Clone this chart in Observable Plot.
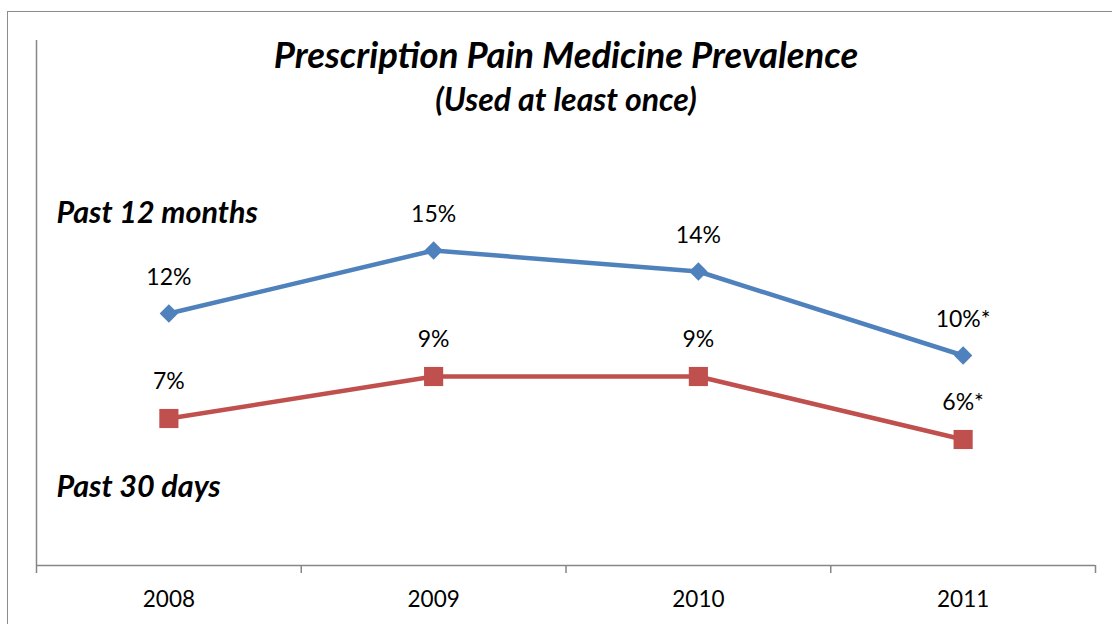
<!DOCTYPE html>
<html>
<head>
<meta charset="utf-8">
<script src="https://cdn.jsdelivr.net/npm/d3@7"></script>
<script src="https://cdn.jsdelivr.net/npm/@observablehq/plot@0.6"></script>
<style>
  html, body { margin: 0; padding: 0; background: #fff; }
  #wrap { position: relative; width: 1112px; height: 624px; overflow: hidden; }
  #border { position: absolute; left: 7px; top: 11px; width: 1200px; height: 700px;
            border: 1.5px solid #8c8c8c; box-sizing: border-box; }
  #chart { position: absolute; left: 0; top: 0; }
</style>
</head>
<body>
<div id="wrap"><div id="border"></div><div id="chart"></div></div>
<script>
const years = [2008, 2009, 2010, 2011];
const past12Months = [12, 15, 14, 10];
const past30Days = [7, 9, 9, 6];
const labels12 = ["12%", "15%", "14%", "10%*"];
const labels30 = ["7%", "9%", "9%", "6%*"];
const bandEdges = [2007.5, 2008.5, 2009.5, 2010.5, 2011.5];

const blue = "#4F81BD";
const red = "#C0504D";
const axisGray = "#868686";
const font = "Lato, 'Open Sans', sans-serif";

const rows12 = years.map((y, i) => ({year: y, value: past12Months[i], label: labels12[i]}));
const rows30 = years.map((y, i) => ({year: y, value: past30Days[i], label: labels30[i]}));

const chart = Plot.plot({
  width: 1112,
  height: 624,
  marginLeft: 36,
  marginRight: 17,
  marginTop: 40,
  marginBottom: 59,
  style: {fontFamily: font, background: "transparent", overflow: "visible"},
  x: {domain: [2007.5, 2011.5], axis: null},
  y: {domain: [0, 25], axis: null},
  marks: [
    Plot.ruleX([2007.5], {stroke: axisGray, strokeWidth: 1.5}),
    Plot.ruleY([0], {stroke: axisGray, strokeWidth: 1.5}),
    Plot.axisX({ticks: bandEdges, tickSize: 8, tickFormat: () => "", label: null,
                stroke: axisGray, strokeWidth: 1.5}),
    Plot.axisX({ticks: years, tickSize: 0, tickPadding: 26, tickFormat: d => String(d), label: null,
                fontSize: 22.5, fill: "#000"}),
    Plot.line(rows12, {x: "year", y: "value", stroke: blue, strokeWidth: 4.5}),
    Plot.line(rows30, {x: "year", y: "value", stroke: red, strokeWidth: 4.5}),
    Plot.dot(rows12, {x: "year", y: "value", symbol: "diamond2", r: 8.3, fill: blue, stroke: null}),
    Plot.dot(rows30, {x: "year", y: "value", symbol: "square", r: 10.8, fill: red, stroke: null}),
    Plot.text(rows12, {x: "year", y: "value", text: "label", dy: -36, fontSize: 23, fill: "#000"}),
    Plot.text(rows30, {x: "year", y: "value", text: "label", dy: -37, fontSize: 23, fill: "#000"}),
    Plot.text(["Prescription Pain Medicine Prevalence"], {frameAnchor: "top", lineAnchor: "middle", dy: 16,
      fontSize: 36.5, fontWeight: "bold", fontStyle: "italic", fill: "#000"}),
    Plot.text(["(Used at least once)"], {frameAnchor: "top", lineAnchor: "middle", dy: 60,
      fontSize: 32, fontWeight: "bold", fontStyle: "italic", fill: "#000"}),
    Plot.text(["Past 12 months"], {frameAnchor: "top-left", lineAnchor: "middle", dx: 20, dy: 173,
      textAnchor: "start", fontSize: 30.5, fontWeight: "bold", fontStyle: "italic", fill: "#000"}),
    Plot.text(["Past 30 days"], {frameAnchor: "top-left", lineAnchor: "middle", dx: 20, dy: 447,
      textAnchor: "start", fontSize: 30.5, fontWeight: "bold", fontStyle: "italic", fill: "#000"})
  ]
});
document.getElementById("chart").appendChild(chart);
</script>
</body>
</html>
